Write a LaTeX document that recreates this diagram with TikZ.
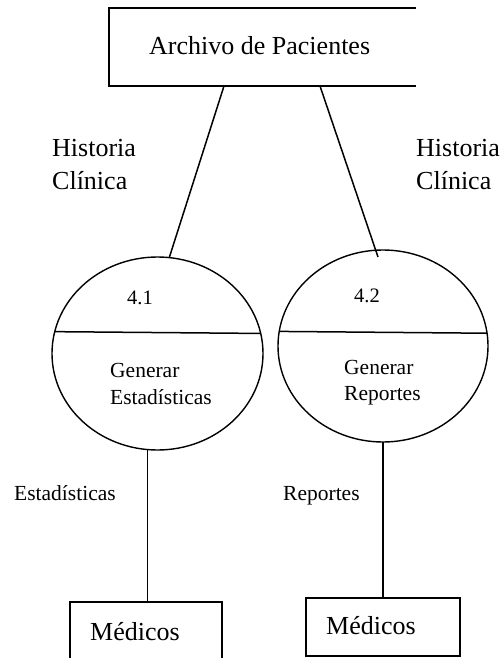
\documentclass[tikz,border=0pt]{standalone}
\usepackage{fontspec}
\setmainfont{Liberation Serif}
\usetikzlibrary{shapes.geometric}
\begin{document}
\begin{tikzpicture}[x=1pt,y=-1pt,
  big/.style={font=\fontsize{26}{30}\selectfont, inner sep=0, anchor=base west},
  small/.style={font=\fontsize{21.5}{26}\selectfont, inner sep=0, anchor=base west},
  num/.style={font=\fontsize{20.5}{24}\selectfont, inner sep=0, anchor=base west},
  proc/.style={ellipse, draw, line width=1.4pt, inner sep=0, outer sep=0},
  store/.style={draw, line width=1.6pt, inner sep=0, outer sep=0},
  flow/.style={line width=1.5pt}]
\useasboundingbox (0,0) rectangle (503,658);
\clip (0,0) rectangle (503,658);

% top data store (open on the right)
\node[inner sep=0, outer sep=0, minimum width=307pt, minimum height=78pt] (arch) at (262.5,47) {};
\draw[line width=1.8pt] (arch.north east) -- (arch.north west) -- (arch.south west) -- (arch.south east);
\node[big] (archt) at (149,55) {Archivo de Pacientes};

% processes
\node[proc, minimum width=211pt, minimum height=193pt] (p1) at (157.5,353.5) {};
\node[proc, minimum width=210pt, minimum height=192pt] (p2) at (383,346) {};
\draw[flow] (p1.168.7) -- (p1.11.3);
\draw[flow] (p2.172.3) -- (p2.7.7);

\node[num] (n41) at (127,304) {4.1};
\node[small] (g1a) at (110,377) {Generar};
\node[small] (g1b) at (110,404) {Estadísticas};
\node[num] (n42) at (354,302) {4.2};
\node[small] (g2a) at (344,374) {Generar};
\node[small] (g2b) at (344,400) {Reportes};

% external entities
\node[store, minimum width=152pt, minimum height=58pt] (m1) at (146,631) {};
\node[store, minimum width=154pt, minimum height=58pt] (m2) at (383,627) {};
\node[big] (m1t) at (90,640) {Médicos};
\node[big] (m2t) at (326,634) {Médicos};

% flows
\coordinate (e2) at (378,257);
\draw[flow] ([xshift=115pt]arch.south west) -- (p1.83.8);
\draw[flow] ([xshift=211pt]arch.south west) -- (e2);
\draw[flow] (p1.264.4) -- (p1.264.4 |- m1.north);
\draw[flow] (p2.south) -- (m2.north);

% flow labels
\node[big] (h1a) at (52,156) {Historia};
\node[big] (h1b) at (52,189) {Clínica};
\node[big] (h2a) at (416,156) {Historia};
\node[big] (h2b) at (416,189) {Clínica};
\node[small] (fl1) at (14,500) {Estadísticas};
\node[small] (fl2) at (283,500) {Reportes};
\end{tikzpicture}
\end{document}
